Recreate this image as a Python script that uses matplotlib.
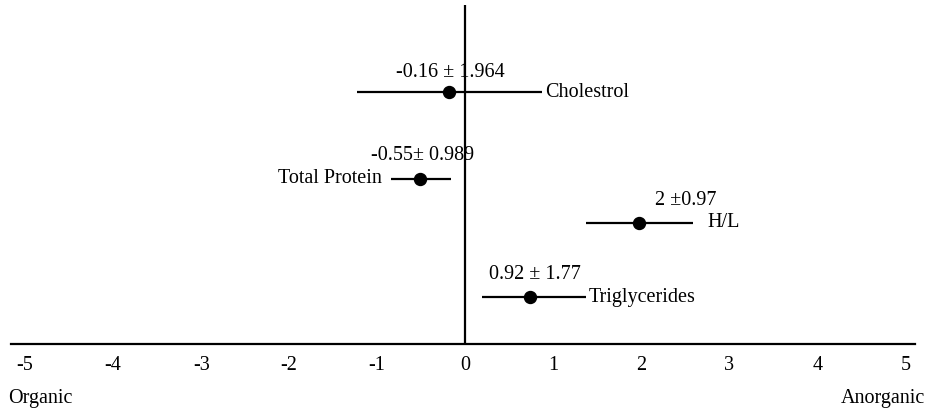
import matplotlib
matplotlib.use("Agg")
import matplotlib.pyplot as plt

# ---- data ----
categories = ["Cholestrol", "Total Protein", "H/L", "Triglycerides"]
estimates = [-0.18, -0.51, 1.98, 0.74]
err_low = [1.05, 0.33, 0.61, 0.55]
err_high = [1.05, 0.35, 0.61, 0.63]
stat_labels = ["-0.16 \u00b1 1.964", "-0.55\u00b1 0.989", "2 \u00b10.97", "0.92 \u00b1 1.77"]
row_pos = [7.44, 4.87, 3.58, 1.40]
x_ticks = [-5, -4, -3, -2, -1, 0, 1, 2, 3, 4, 5]
x_ticklabels = ["-5", "-4", "-3", "-2", "-1", "0", "1", "2", "3", "4", "5"]
left_label = "Organic"
right_label = "Anorganic"

# ---- style ----
plt.rcParams['font.family'] = ['Liberation Serif', 'DejaVu Serif']
FS = 14.5
W, H = 929, 412
fig = plt.figure(figsize=(W / 100, H / 100), dpi=100)
ax = fig.add_axes([11 / W, (H - 344) / H, (915 - 11) / W, (344 - 5) / H])
ax.set_xlim(-5.16, 5.11)
ax.set_ylim(0, 10)

for s in ["top", "right", "left"]:
    ax.spines[s].set_visible(False)
ax.spines["bottom"].set_linewidth(1.6)
ax.set_yticks([])
ax.set_xticks(x_ticks)
ax.set_xticklabels(x_ticklabels, fontsize=FS)
ax.tick_params(axis='x', length=0, pad=9)

ax.axvline(0, color='black', lw=1.6, zorder=1)

ax.errorbar(estimates, row_pos, xerr=[err_low, err_high], fmt='o', color='black',
            ms=8.6, elinewidth=1.6, capsize=0, zorder=3)

px = 0.72  # points per pixel
# stat label offsets (pixels) relative to point
stat_off = [(1, 19), (2, 23), (46, 22), (5, 22)]
for x, y, t, (dx, dy) in zip(estimates, row_pos, stat_labels, stat_off):
    ax.annotate(t, (x, y), xytext=(dx * px, dy * px), textcoords='offset points',
                ha='center', va='center', fontsize=FS)

# category labels next to bars
for i, (x, y, name) in enumerate(zip(estimates, row_pos, categories)):
    lo = x - err_low[i]
    hi = x + err_high[i]
    if name == "Total Protein":
        ax.annotate(name, (lo, y), xytext=(-9 * px, 0), textcoords='offset points',
                    ha='right', va='center', fontsize=FS)
    elif name == "H/L":
        ax.annotate(name, (hi, y), xytext=(14 * px, 0), textcoords='offset points',
                    ha='left', va='center', fontsize=FS)
    else:
        ax.annotate(name, (hi, y), xytext=(3 * px, -1 * px), textcoords='offset points',
                    ha='left', va='center', fontsize=FS)

fig.text(8 / W, 1 - 398 / H, left_label, ha='left', va='center', fontsize=FS)
fig.text(925 / W, 1 - 398 / H, right_label, ha='right', va='center', fontsize=FS)

fig.savefig("out.png", dpi=100)
